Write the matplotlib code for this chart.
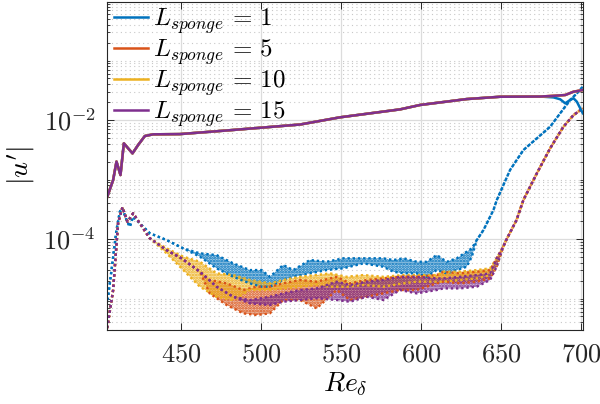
import numpy as np
import matplotlib
matplotlib.use('Agg')
import matplotlib.pyplot as plt
from matplotlib.colors import to_rgba
from matplotlib.ticker import FixedLocator, FuncFormatter, NullFormatter

plt.rcParams['mathtext.fontset'] = 'cm'
plt.rcParams['hatch.linewidth'] = 1.3

colors = ['#0072BD', '#D95319', '#EDB120', '#7E2F8E']
labels = [r'$L_{sponge}\,=\,1$', r'$L_{sponge}\,=\,5$', r'$L_{sponge}\,=\,10$', r'$L_{sponge}\,=\,15$']

# solid lines (max amplitude), nearly identical for all sponge lengths
re_max = [403.9, 407.7, 409.8, 412.3, 414.4, 417.1, 419.8, 423.3, 427.5, 432.7, 449.4,
          482.5, 524.4, 549.4, 586.9, 599.4, 628.5, 649.4, 674.4]
u_max = [5.0e-4, 9.8e-4, 2.0e-3, 1.19e-3, 4.06e-3, 3.34e-3, 2.75e-3, 3.8e-3, 5.38e-3, 5.75e-3, 5.8e-3,
         6.8e-3, 8.4e-3, 1.11e-2, 1.51e-2, 1.79e-2, 2.25e-2, 2.46e-2, 2.48e-2]
re_tail_1 = [682.7, 686.9, 690.0, 693.1, 695.2, 697.3, 698.9, 701.0]
u_tail_1 = [2.4e-2, 2.23e-2, 1.91e-2, 2.17e-2, 2.32e-2, 2.03e-2, 1.67e-2, 1.30e-2]
re_tail = [682.7, 690.0, 695.2, 701.0]
u_tail = [2.55e-2, 2.63e-2, 2.99e-2, 3.19e-2]

# dotted curves: lower / upper edge of the oscillating band
re_1 = [404.3, 406.7, 409.8, 411.9, 413.5, 416.1, 418.1, 420.2, 430.6, 441.1, 451.4, 461.9, 472.3,
        482.7, 493.1, 500.4, 505.6, 513.9, 520.2, 530.6, 541.0, 551.4, 564.0, 576.4, 582.7, 589.0,
        597.3, 603.5, 609.8, 616.0, 622.3, 628.5, 631.7, 634.8, 639.0, 645.2, 647.3, 655.6, 663.9,
        672.3, 680.6, 686.9, 693.1, 698.3, 701.0]
hi_1 = [9.44e-6, 3.01e-5, 1.42e-4, 2.88e-4, 3.28e-4, 2.08e-4, 1.61e-4, 2.37e-4, 1.25e-4, 9.6e-5,
        6.98e-5, 5.75e-5, 5.38e-5, 3.90e-5, 3.01e-5, 3.01e-5, 2.32e-5, 3.66e-5, 3.01e-5, 4.44e-5,
        4.15e-5, 4.74e-5, 4.74e-5, 4.74e-5, 4.44e-5, 4.74e-5, 4.15e-5, 4.15e-5, 5.38e-5, 4.15e-5,
        4.74e-5, 6.12e-5, 6.98e-5, 9.6e-5, 1.42e-4, 3.07e-4, 4.52e-4, 1.45e-3, 3.13e-3, 4.92e-3,
        7.71e-3, 1.30e-2, 2.17e-2, 2.99e-2, 3.63e-2]
lo_1 = [9.44e-6, 3.01e-5, 1.42e-4, 2.88e-4, 3.28e-4, 2.08e-4, 1.61e-4, 2.37e-4, 1.25e-4, 9.6e-5,
        6.98e-5, 5.05e-5, 3.22e-5, 2.32e-5, 1.80e-5, 1.58e-5, 1.58e-5, 2.05e-5, 2.32e-5, 2.65e-5,
        3.01e-5, 3.22e-5, 3.90e-5, 3.42e-5, 2.82e-5, 2.65e-5, 2.65e-5, 2.32e-5, 3.01e-5, 2.65e-5,
        3.01e-5, 3.42e-5, 5.05e-5, 9.6e-5, 1.42e-4, 3.07e-4, 4.52e-4, 1.45e-3, 3.13e-3, 4.92e-3,
        7.71e-3, 1.30e-2, 2.17e-2, 2.99e-2, 3.63e-2]

re_5 = [404.0, 407.7, 410.8, 413.5, 416.7, 420.2, 430.6, 441.1, 450.4, 461.9, 468.0, 478.6, 488.9,
        497.3, 505.6, 513.9, 524.4, 534.8, 547.3, 555.6, 566.0, 576.4, 586.9, 597.3, 609.8, 613.9,
        624.4, 634.8, 643.1, 647.2, 651.3, 653.5, 659.6, 663.9, 672.3, 680.6, 688.9, 695.2, 701.0]
hi_5 = [3.19e-6, 1.39e-5, 1.86e-4, 3.41e-4, 1.95e-4, 2.70e-4, 1.03e-4, 6.5e-5, 4.74e-5, 2.82e-5,
        2.05e-5, 1.80e-5, 1.39e-5, 1.58e-5, 1.58e-5, 1.80e-5, 2.05e-5, 1.92e-5, 2.32e-5, 1.80e-5,
        2.05e-5, 2.18e-5, 2.32e-5, 2.32e-5, 2.48e-5, 2.82e-5, 2.65e-5, 2.82e-5, 3.01e-5, 4.74e-5,
        7.41e-5, 1.0e-4, 2.08e-4, 4.52e-4, 1.27e-3, 3.34e-3, 7.71e-3, 1.21e-2, 1.57e-2]
lo_5 = [3.19e-6, 1.39e-5, 1.86e-4, 3.41e-4, 1.95e-4, 2.70e-4, 1.03e-4, 6.5e-5, 4.74e-5, 2.82e-5,
        1.22e-5, 7.78e-6, 5.64e-6, 5.28e-6, 5.64e-6, 9.44e-6, 9.44e-6, 6.84e-6, 1.39e-5, 9.44e-6,
        1.07e-5, 1.22e-5, 1.39e-5, 1.39e-5, 1.80e-5, 1.92e-5, 1.80e-5, 1.92e-5, 2.18e-5, 3.42e-5,
        7.41e-5, 1.0e-4, 2.08e-4, 4.52e-4, 1.27e-3, 3.34e-3, 7.71e-3, 1.21e-2, 1.57e-2]

re_10 = [404.0, 407.7, 410.8, 413.5, 416.7, 420.2, 430.6, 441.1, 451.5, 461.9, 472.3, 482.7, 493.1,
         505.6, 513.9, 524.4, 534.8, 543.1, 553.5, 564.0, 576.4, 589.0, 597.3, 609.8, 613.9, 624.4,
         634.8, 643.1, 647.2, 651.3, 653.5, 659.6, 663.9, 672.3, 680.6, 688.9, 695.2, 701.0]
hi_10 = [3.19e-6, 1.39e-5, 1.86e-4, 3.41e-4, 1.95e-4, 2.70e-4, 1.03e-4, 6.98e-5, 5.05e-5, 4.15e-5,
         2.65e-5, 2.48e-5, 2.05e-5, 1.80e-5, 2.05e-5, 2.32e-5, 2.48e-5, 2.65e-5, 2.32e-5, 2.48e-5,
         2.32e-5, 2.48e-5, 2.48e-5, 2.48e-5, 2.82e-5, 2.82e-5, 3.01e-5, 3.22e-5, 4.74e-5, 7.41e-5,
         1.0e-4, 2.08e-4, 4.52e-4, 1.27e-3, 3.34e-3, 7.71e-3, 1.21e-2, 1.57e-2]
lo_10 = [3.19e-6, 1.39e-5, 1.86e-4, 3.41e-4, 1.95e-4, 2.70e-4, 1.03e-4, 5.75e-5, 3.01e-5, 1.58e-5,
         1.07e-5, 9.44e-6, 1.39e-5, 1.39e-5, 1.48e-5, 1.58e-5, 1.69e-5, 1.58e-5, 1.58e-5, 1.69e-5,
         1.58e-5, 1.80e-5, 1.92e-5, 1.92e-5, 1.92e-5, 2.05e-5, 2.18e-5, 2.48e-5, 3.55e-5, 7.41e-5,
         1.0e-4, 2.08e-4, 4.52e-4, 1.27e-3, 3.34e-3, 7.71e-3, 1.21e-2, 1.57e-2]

re_15 = [404.0, 407.7, 410.8, 413.5, 416.7, 420.2, 430.6, 441.1, 450.4, 461.9, 472.3, 482.7, 493.1,
         505.6, 513.9, 524.4, 534.8, 547.3, 555.6, 566.0, 576.5, 586.9, 597.3, 609.8, 613.9, 624.4,
         634.8, 643.1, 647.2, 651.3, 653.5, 659.6, 663.9, 672.3, 680.6, 688.9, 695.2, 701.0]
hi_15 = [3.19e-6, 1.39e-5, 1.86e-4, 3.41e-4, 1.95e-4, 2.70e-4, 1.03e-4, 6.5e-5, 4.74e-5, 2.82e-5,
         1.58e-5, 1.07e-5, 9.44e-6, 1.07e-5, 1.22e-5, 1.39e-5, 1.48e-5, 1.92e-5, 1.69e-5, 1.92e-5,
         2.05e-5, 2.32e-5, 2.32e-5, 2.18e-5, 2.18e-5, 2.32e-5, 2.48e-5, 2.65e-5, 4.74e-5, 7.41e-5,
         1.0e-4, 2.08e-4, 4.52e-4, 1.27e-3, 3.34e-3, 7.71e-3, 1.21e-2, 1.57e-2]
lo_15 = [3.19e-6, 1.39e-5, 1.86e-4, 3.41e-4, 1.95e-4, 2.70e-4, 1.03e-4, 6.5e-5, 4.74e-5, 2.82e-5,
         1.58e-5, 1.07e-5, 8.30e-6, 7.78e-6, 8.83e-6, 9.44e-6, 1.01e-5, 9.44e-6, 8.83e-6, 1.07e-5,
         9.44e-6, 1.39e-5, 1.22e-5, 1.39e-5, 1.48e-5, 1.48e-5, 1.58e-5, 2.05e-5, 3.42e-5, 7.41e-5,
         1.0e-4, 2.08e-4, 4.52e-4, 1.27e-3, 3.34e-3, 7.71e-3, 1.21e-2, 1.57e-2]

fig = plt.figure(figsize=(6, 4.04), dpi=100)
ax = fig.add_axes([0.178, 0.183, 0.794, 0.812])

bands = [(re_1, lo_1, hi_1), (re_5, lo_5, hi_5), (re_10, lo_10, hi_10), (re_15, lo_15, hi_15)]
for (re, lo, hi), c in zip(bands, colors):
    ax.fill_between(re, lo, hi, facecolor=to_rgba(c, 0.35), edgecolor=c, hatch='......', linewidth=0)
    ax.plot(re, lo, color=c, lw=1.7, ls=(0, (1, 1.2)))
    ax.plot(re, hi, color=c, lw=1.7, ls=(0, (1, 1.2)))

for i, c in enumerate(colors):
    if i == 0:
        re_s, u_s = re_max + re_tail_1, u_max + u_tail_1
    else:
        re_s, u_s = re_max + re_tail, u_max + u_tail
    ax.plot(re_s, u_s, color=c, lw=1.8, label=labels[i])

ax.set_yscale('log')
ax.set_xlim(403.75, 701.25)
ax.set_ylim(10 ** -5.53, 10 ** -0.017)

ax.xaxis.set_major_locator(FixedLocator([450, 500, 550, 600, 650, 700]))
ax.xaxis.set_major_formatter(FuncFormatter(lambda v, p: f'${int(v)}$'))
ax.yaxis.set_major_locator(FixedLocator([1e-6, 1e-4, 1e-2, 1e0]))
ax.yaxis.set_major_formatter(FuncFormatter(lambda v, p: f'$10^{{{int(round(np.log10(v)))}}}$'))
minors = [k * 10.0 ** e for e in range(-6, 0) for k in range(1, 10)]
ax.yaxis.set_minor_locator(FixedLocator(minors))
ax.yaxis.set_minor_formatter(NullFormatter())

ax.grid(True, which='major', color='#dcdcdc', lw=0.9, ls='-')
ax.grid(True, which='minor', axis='y', color='#c8c8c8', lw=0.8, ls=(0, (1, 3)))
ax.set_axisbelow(True)

ax.tick_params(which='both', direction='in', top=True, right=True, colors='#262626',
               labelsize=19, pad=8)
ax.tick_params(which='major', length=5, width=0.7)
ax.tick_params(which='minor', length=2.5, width=0.6)
for s in ax.spines.values():
    s.set_color('#262626')
    s.set_linewidth(0.8)

ax.set_xlabel(r'$Re_\delta$', fontsize=20, labelpad=2)
ax.set_ylabel(r"$|u'|$", fontsize=20, labelpad=4)

ax.legend(loc='upper left', bbox_to_anchor=(0.008, 1.0), frameon=False, fontsize=18,
          handlelength=1.35, handletextpad=0.2, labelspacing=0.05, borderaxespad=0.0,
          borderpad=0.15)

fig.savefig('out.png', dpi=100, facecolor='white')
